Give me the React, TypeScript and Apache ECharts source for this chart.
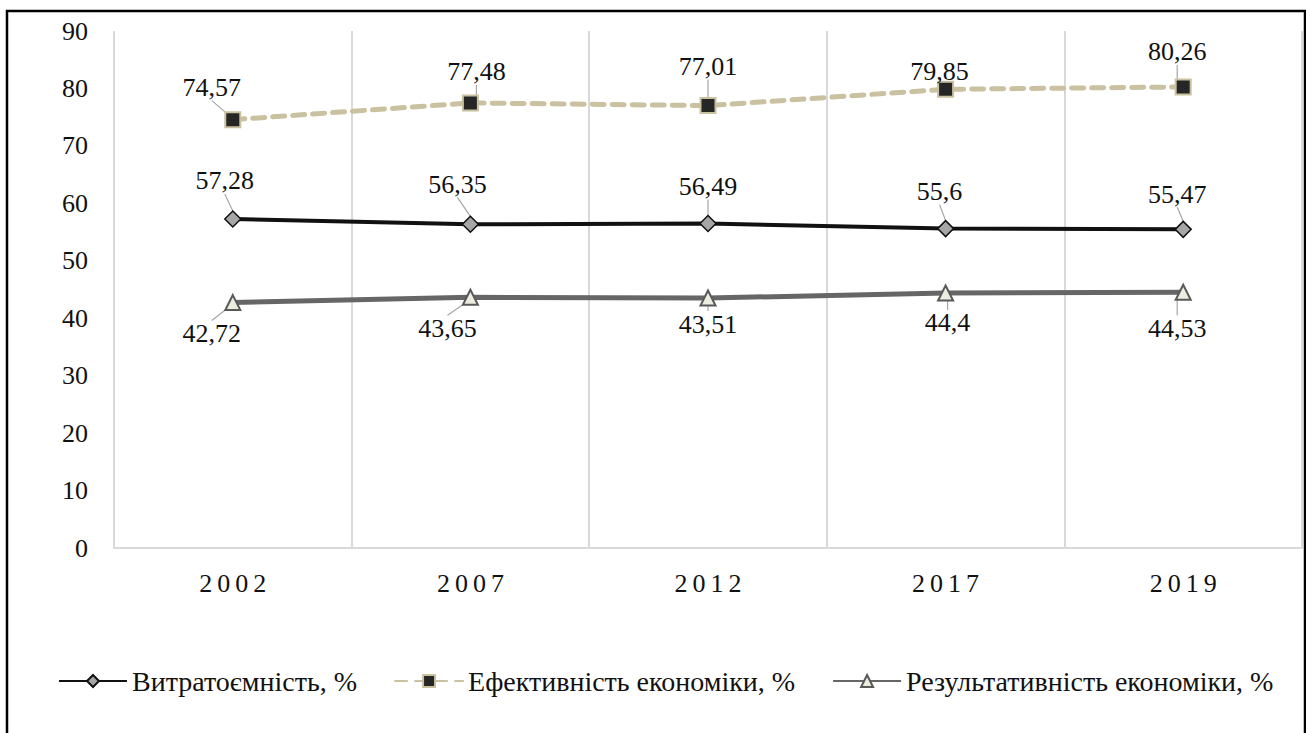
import React, { useEffect, useRef } from "react";
import * as echarts from "echarts";

const years = ["2002", "2007", "2012", "2017", "2019"];
const costIntensity = [57.28, 56.35, 56.49, 55.6, 55.47];
const efficiency = [74.57, 77.48, 77.01, 79.85, 80.26];
const effectiveness = [42.72, 43.65, 43.51, 44.4, 44.53];
const seriesNames = [
  "Витратоємність, %",
  "Ефективність економіки, %",
  "Результативність економіки, %",
];
const yMin = 0;
const yMax = 90;
const yStep = 10;

// label offsets (style only): [dx, dy] from the marker centre
const costOffsets = [[-8, -38], [-13, -40], [0, -37], [-6, -37], [-6, -35]];
const effOffsets = [[-21, -32], [6, -31], [0, -39], [-6, -18], [-6, -35]];
const resOffsets = [[-21, 31], [-23, 31], [0, 26], [2, 30], [-6, 36]];

const FONT = "Liberation Serif";

const fmt = (v: number) => String(v).replace(".", ",");

export default function App() {
  const ref = useRef<HTMLDivElement>(null);
  useEffect(() => {
    if (!ref.current) return;
    const chart = echarts.init(ref.current, null, { renderer: "svg" });
    const offsets = [costOffsets, effOffsets, resOffsets];
    const labelCommon = {
      show: true,
      position: "inside",
      formatter: (p: any) => fmt(p.value),
      color: "#111",
      fontSize: 26,
      fontFamily: FONT,
    };
    const labelLine = { show: true, lineStyle: { color: "#a6a6a6", width: 1.2 } };
    const labelLayout = (p: any) => {
      const o = offsets[p.seriesIndex][p.dataIndex];
      return { dx: o[0], dy: o[1] };
    };
    const option = {
      animation: false,
      textStyle: { fontFamily: FONT },
      grid: { left: 114, right: 4, top: 31, bottom: 185 },
      graphic: [
        {
          type: "rect",
          silent: true,
          z: -10,
          shape: { x: 7, y: 11, width: 1298, height: 780 },
          style: { fill: "none", stroke: "#000", lineWidth: 2.5 },
        },
      ],
      xAxis: {
        type: "category",
        data: years,
        boundaryGap: true,
        axisLine: { lineStyle: { color: "#d9d9d9", width: 2 } },
        axisTick: { show: false },
        splitLine: { show: true, lineStyle: { color: "#d9d9d9", width: 2 } },
        axisLabel: {
          color: "#111",
          fontSize: 26,
          fontFamily: FONT,
          margin: 22,
          padding: [0, 0, 0, 5],
        },
      },
      yAxis: {
        type: "value",
        min: yMin,
        max: yMax,
        interval: yStep,
        axisLine: { show: false },
        axisTick: { show: false },
        splitLine: { show: false },
        axisLabel: { color: "#111", fontSize: 26, fontFamily: FONT, margin: 26 },
      },
      legend: {
        left: 53,
        top: 662,
        itemWidth: 68,
        itemHeight: 15,
        itemGap: 37,
        textStyle: { color: "#111", fontSize: 28, fontFamily: FONT },
        data: seriesNames,
      },
      series: [
        {
          name: seriesNames[0],
          type: "line",
          data: costIntensity,
          symbol: "diamond",
          symbolSize: 16,
          lineStyle: { color: "#111", width: 4 },
          itemStyle: { color: "#a6a6a6", borderColor: "#111", borderWidth: 1.5 },
          label: labelCommon,
          labelLine,
          labelLayout,
          z: 3,
        },
        {
          name: seriesNames[1],
          type: "line",
          data: efficiency,
          symbol: "rect",
          symbolSize: 15,
          lineStyle: { color: "#c9c1a0", width: 5, type: [12, 8], cap: "round" },
          itemStyle: { color: "#262626", borderColor: "#c9c1a0", borderWidth: 2 },
          label: labelCommon,
          labelLine,
          labelLayout,
          z: 3,
        },
        {
          name: seriesNames[2],
          type: "line",
          data: effectiveness,
          symbol: "triangle",
          symbolSize: 15,
          lineStyle: { color: "#666666", width: 5 },
          itemStyle: { color: "#ededdf", borderColor: "#595959", borderWidth: 2 },
          label: labelCommon,
          labelLine,
          labelLayout,
          z: 3,
        },
      ],
    };
    chart.setOption(option as any);
    const apply = () => {
      ref.current?.querySelectorAll("text").forEach((t) => {
        const el = t as any;
        el.style.fontFamily = '"Liberation Serif", "Times New Roman", serif';
        const s = (t.textContent || "").trim();
        if (years.includes(s)) el.style.letterSpacing = "5px";
      });
    };
    chart.on("finished", apply);
    apply();
    const id = setTimeout(apply, 60);
    return () => {
      clearTimeout(id);
      chart.dispose();
    };
  }, []);
  return (
    <>
      <style>{`.chart-root svg text { font-family: "Liberation Serif", "Times New Roman", serif !important; }`}</style>
      <div
        ref={ref}
        className="chart-root"
        style={{ position: "absolute", left: 0, top: 0, width: 1306, height: 733, background: "#fff" }}
      />
    </>
  );
}
